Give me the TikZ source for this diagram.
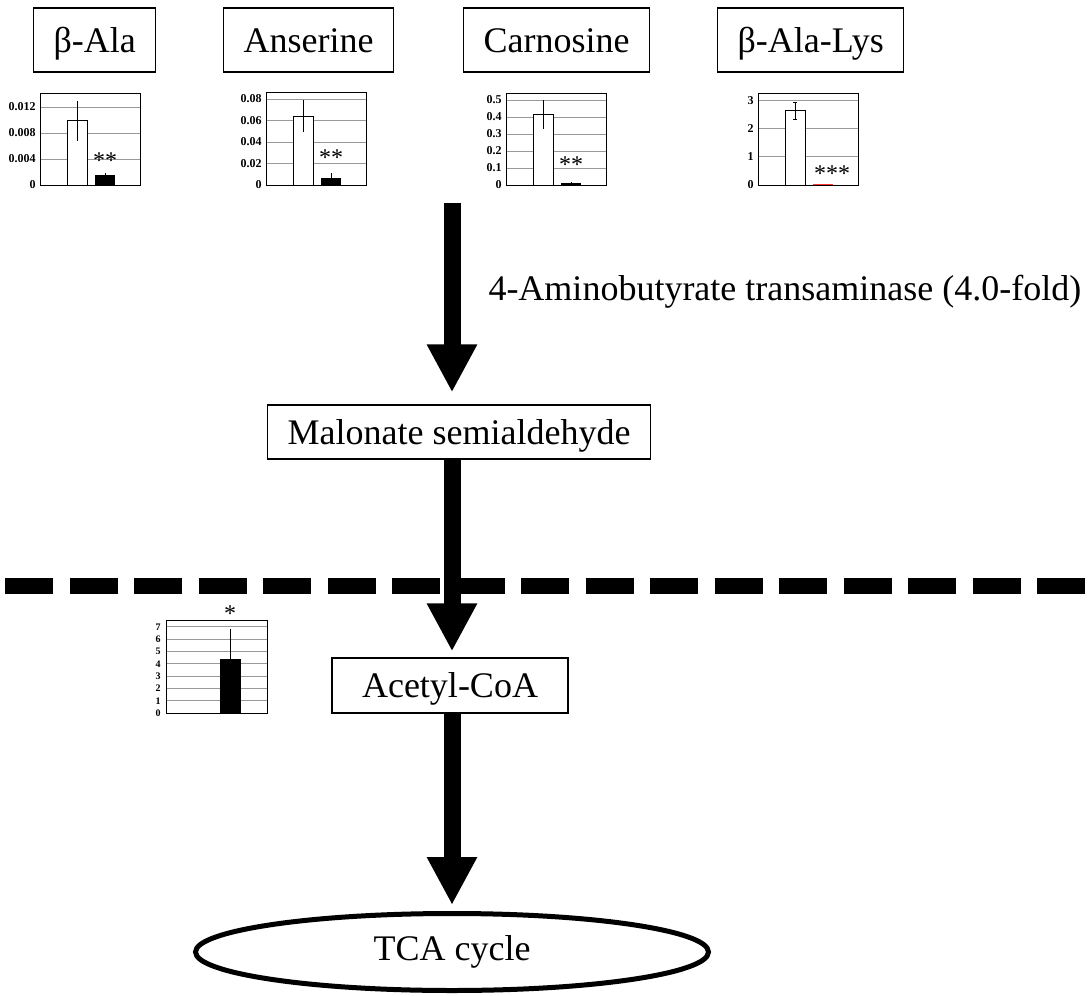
\documentclass[tikz,border=0pt]{standalone}
\usepackage{fontspec}
\setmainfont{Liberation Serif}
\usetikzlibrary{arrows.meta, positioning, shapes.geometric}

\begin{document}
\begin{tikzpicture}[
                x=0.5pt, y=-0.5pt,
                caja/.style={
                    rectangle,
                    draw=black,
                    line width=0.6pt,
                    minimum height=32pt,
                    inner xsep=10pt,
                    text height=13pt,
                    text depth=1pt,
                    font=\fontsize{18}{21}\selectfont
                },
                flecha/.style={
                    line width=8.5pt,
                    -{Triangle[width=23.5pt, length=24pt]}
                },
                marco/.style={draw=black, line width=0.5pt},
                rejilla/.style={draw=black!40, line width=0.5pt},
                barra/.style={draw=black, line width=0.4pt, fill=white},
                eje/.style={font=\fontsize{6}{7}\selectfont\bfseries, anchor=east, inner sep=0pt},
                sig/.style={font=\fontsize{12}{14}\selectfont, inner sep=0pt}
            ]
                \useasboundingbox (0,0) rectangle (1088,996);

                % sustratos
                \node[caja, anchor=west] (bala) at (33,40) {β-Ala};
                \node[caja, anchor=west] (anser) at (223,40) {Anserine};
                \node[caja, anchor=west] (carno) at (463,40) {Carnosine};
                \node[caja, anchor=west] (balys) at (717,40) {β-Ala-Lys};

                % graficos de barras
                \begin{scope}[shift={(40,185)}, y={(0,3250pt)}]
                    \foreach \v in {0.004,0.008,0.012} \draw[rejilla] (0,\v) -- (100,\v);
                    \draw[barra] (27,0) rectangle (47,0.010);
                    \fill (55,0) rectangle (75,0.0015);
                    \draw (37,0.0068) -- (37,0.0129);
                    \draw (65,0.0015) -- (65,0.0019);
                    \draw[marco] (0,0) rectangle (100,0.01415);
                    \foreach \v in {0,0.004,0.008,0.012} \node[eje] at (-4,\v) {\v};
                \end{scope}
                \node[sig] at (105,161) {**};

                \begin{scope}[shift={(266,185)}, y={(0,537.5pt)}]
                    \foreach \v in {0.02,0.04,0.06,0.08} \draw[rejilla] (0,\v) -- (100,\v);
                    \draw[barra] (27,0) rectangle (47,0.064);
                    \fill (55,0) rectangle (75,0.0065);
                    \draw (37,0.049) -- (37,0.079);
                    \draw (65,0.0065) -- (65,0.011);
                    \draw[marco] (0,0) rectangle (100,0.0856);
                    \foreach \v in {0,0.02,0.04,0.06,0.08} \node[eje] at (-4,\v) {\v};
                \end{scope}
                \node[sig] at (331,158) {**};

                \begin{scope}[shift={(506,185)}, y={(0,85pt)}]
                    \foreach \v in {0.1,0.2,0.3,0.4,0.5} \draw[rejilla] (0,\v) -- (100,\v);
                    \draw[barra] (27,0) rectangle (47,0.415);
                    \fill (55,0) rectangle (75,0.012);
                    \draw (37,0.33) -- (37,0.50);
                    \draw (65,0.012) -- (65,0.02);
                    \draw[marco] (0,0) rectangle (100,0.541);
                    \foreach \v in {0,0.1,0.2,0.3,0.4,0.5} \node[eje] at (-4,\v) {\v};
                \end{scope}
                \node[sig] at (571,165) {**};

                \begin{scope}[shift={(758,185)}, y={(0,14.15pt)}]
                    \foreach \v in {1,2,3} \draw[rejilla] (0,\v) -- (100,\v);
                    \draw[barra] (27,0) rectangle (47,2.65);
                    \draw (37,2.33) -- (37,2.93);
                    \draw (35,2.33) -- (39,2.33);
                    \draw (35,2.93) -- (39,2.93);
                    \draw[red!80, line width=1pt] (55,0) -- (75,0);
                    \draw[marco] (0,0) rectangle (100,3.25);
                    \foreach \v in {0,1,2,3} \node[eje] at (-4,\v) {\v};
                \end{scope}
                \node[sig] at (832,174) {***};

                % acetil-CoA
                \begin{scope}[shift={(166,713)}, y={(0,6.145pt)}]
                    \foreach \v in {1,...,7} \draw[rejilla] (0,\v) -- (101,\v);
                    \fill (54,0) rectangle (75,4.4);
                    \draw (64.5,4.4) -- (64.5,6.8);
                    \draw[marco] (0,0) rectangle (101,7.49);
                    \foreach \v in {0,...,7} \node[eje, font=\fontsize{5}{6}\selectfont\bfseries] at (-5,\v) {\v};
                \end{scope}
                \node[sig] at (230,614) {*};

                % ruta
                \node[caja, minimum width=191pt, minimum height=27pt] (malon) at (459,432) {Malonate semialdehyde};
                \node[caja, minimum width=118pt, minimum height=27.5pt] (acetil) at (450,685.5) {Acetyl-CoA};
                \node[ellipse, draw, line width=2.5pt, minimum width=256.5pt, minimum height=38.5pt,
                      inner sep=0pt, font=\fontsize{18}{21}\selectfont] (tca) at (452,952) {TCA cycle};

                \coordinate (ini) at (452,203);
                \draw[flecha, shorten >=6pt] (ini) -- node[pos=0.44, anchor=west, inner sep=0pt, xshift=14pt,
                      font=\fontsize{18}{21}\selectfont] (enzima) {4-Aminobutyrate transaminase (4.0-fold)} (ini |- malon.north);
                \draw[flecha, shorten >=3pt] (ini |- malon.south) -- (ini |- acetil.north);
                \draw[flecha, shorten >=3pt] (ini |- acetil.south) -- (ini |- tca.north);

                % membrana
                \draw[line width=8pt, dash pattern=on 24pt off 8.25pt] (5,586) -- (1088,586);
            \end{tikzpicture}
\end{document}
